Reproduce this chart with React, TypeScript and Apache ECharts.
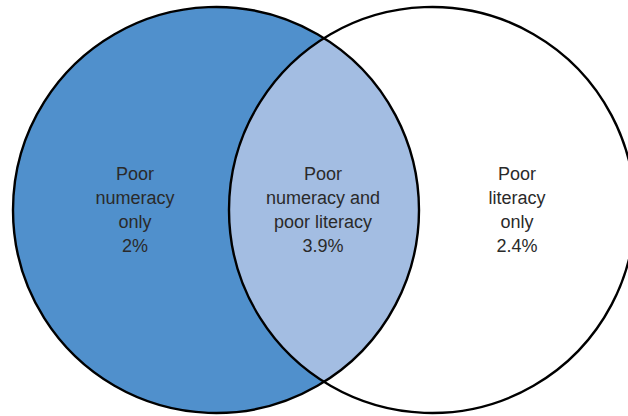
import React, { useEffect, useRef } from "react";
import * as echarts from "echarts";

// ---- data ----
const regionNames = [
  "Poor numeracy only",
  "Poor numeracy and poor literacy",
  "Poor literacy only",
];
const regionLabelLines = [
  ["Poor", "numeracy", "only"],
  ["Poor", "numeracy and", "poor literacy"],
  ["Poor", "literacy", "only"],
];
const regionValues = [2, 3.9, 2.4];

// ---- layout (unit space: circle radius = 1) ----
const CENTER_DIST = 216 / 203;
const X_MIN = -216 / 203;
const X_MAX = 412 / 203;
const Y_MIN = -206 / 203;
const Y_MAX = 210 / 203;
const labelAnchors = [
  [-0.399, 0],
  [0.527, 0],
  [1.483, 0],
];
const COLOR_LEFT = "#5090CC";
const COLOR_LENS = "#A3BDE2";
const STROKE = "#000000";

export default function App() {
  const ref = useRef<HTMLDivElement>(null);
  useEffect(() => {
    if (!ref.current) return;
    const chart = echarts.init(ref.current, null, { renderer: "svg" });
    const renderItem = (params: any, api: any) => {
      const i = params.dataIndex;
      const c0 = api.coord([0, 0]);
      const c1 = api.coord([CENTER_DIST, 0]);
      const r = api.size([1, 0])[0];
      const half = CENTER_DIST / 2;
      const h = Math.sqrt(1 - half * half);
      const p1 = api.coord([half, h]);
      const p2 = api.coord([half, -h]);
      const children: any[] = [];
      if (i === 0) {
        children.push({
          type: "circle",
          shape: { cx: c0[0], cy: c0[1], r },
          style: { fill: COLOR_LEFT, stroke: null },
        });
      } else if (i === 1) {
        const d = `M${p1[0]} ${p1[1]} A${r} ${r} 0 0 1 ${p2[0]} ${p2[1]} A${r} ${r} 0 0 1 ${p1[0]} ${p1[1]} Z`;
        children.push({
          type: "path",
          shape: { pathData: d },
          style: { fill: COLOR_LENS, stroke: null },
        });
      } else {
        children.push({
          type: "circle",
          shape: { cx: c0[0], cy: c0[1], r },
          style: { fill: "none", stroke: STROKE, lineWidth: 2.4 },
        });
        children.push({
          type: "circle",
          shape: { cx: c1[0], cy: c1[1], r },
          style: { fill: "none", stroke: STROKE, lineWidth: 2.4 },
        });
      }
      const a = api.coord(labelAnchors[i]);
      children.push({
        type: "text",
        x: a[0],
        y: a[1],
        z2: 10,
        style: {
          text: [...regionLabelLines[i], `${api.value(0)}%`].join("\n"),
          align: "center",
          verticalAlign: "middle",
          fontSize: 18,
          lineHeight: 24,
          fontFamily: "'Liberation Sans', Arial, Helvetica, sans-serif",
          fill: "#2a2a2a",
        },
      });
      return { type: "group", children };
    };
    chart.setOption({
      animation: false,
      grid: { left: 0, right: 0, top: 0, bottom: 0 },
      xAxis: { type: "value", min: X_MIN, max: X_MAX, show: false },
      yAxis: { type: "value", min: Y_MIN, max: Y_MAX, show: false },
      series: [
        {
          type: "custom",
          name: "Venn",
          renderItem,
          clip: false,
          data: regionValues.map((v, i) => ({ name: regionNames[i], value: [v] })),
        },
      ],
    });
    return () => chart.dispose();
  }, []);
  return (
    <div
      ref={ref}
      style={{ position: "absolute", left: 0, top: 0, width: 628, height: 416, background: "#fff" }}
    />
  );
}
